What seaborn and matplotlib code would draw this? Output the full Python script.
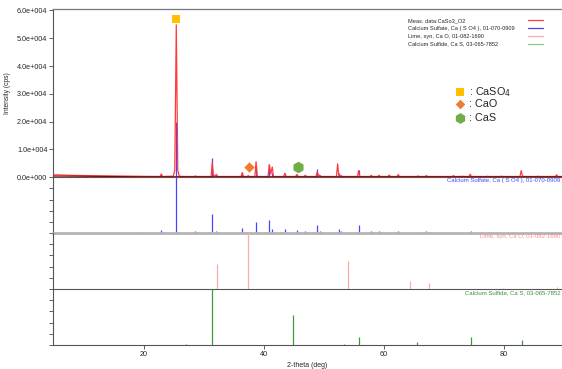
import matplotlib
matplotlib.use("Agg")
import matplotlib.pyplot as plt
import seaborn as sns
import pandas as pd

# ---------------- data ----------------
meas_2theta = [4.9, 8, 12, 16, 20, 22.7, 22.9, 23.1, 24.9, 25.15, 25.4, 25.65, 25.9, 26.5,
               28.4, 28.6, 28.8, 31.2, 31.4, 31.6, 32.1, 32.3, 36.2, 36.4, 36.6, 37.2, 37.4, 37.6,
               38.5, 38.7, 38.9, 40.7, 40.9, 41.15, 41.4, 41.6, 43.3, 43.5, 43.7, 45.3, 45.5, 45.7,
               46.7, 46.9, 47.1, 48.7, 48.9, 49.1, 49.3, 49.5, 52.1, 52.3, 52.5, 52.9, 53.1,
               55.6, 55.8, 56.0, 57.7, 57.9, 58.1, 59.0, 59.2, 59.4, 60.7, 60.9, 61.1, 62.2, 62.4, 62.6,
               65.5, 65.7, 65.9, 66.9, 67.1, 67.3, 71.4, 71.6, 71.8, 72.9, 73.1, 73.3, 74.2, 74.4, 74.6,
               77.1, 77.3, 77.5, 79.4, 79.6, 79.8, 82.7, 82.9, 83.1, 83.4, 85.5, 85.7, 85.9,
               88.6, 88.8, 89.0, 89.8]
meas_counts = [900, 700, 550, 450, 350, 300, 1200, 300, 400, 2500, 54800, 2500, 400, 300,
               300, 500, 300, 300, 5400, 400, 1000, 300, 300, 1650, 300, 300, 600, 300,
               300, 5600, 300, 300, 4600, 1200, 3700, 300, 300, 1400, 300, 300, 1000, 300,
               300, 700, 300, 300, 2000, 700, 800, 300, 300, 4800, 400, 600, 300,
               300, 2400, 300, 300, 700, 300, 300, 700, 300, 300, 800, 300, 300, 1000, 300,
               300, 500, 300, 300, 600, 300, 300, 600, 300, 300, 400, 300, 300, 1100, 300,
               300, 400, 300, 300, 400, 300, 300, 2400, 500, 300, 300, 400, 300,
               300, 900, 300, 300]
bg_2theta = [4.9, 20, 89.8]
bg_counts = [450, 200, 200]

caso4_pos = [19.0, 22.9, 25.4, 28.6, 31.4, 32.1, 36.4, 38.7, 40.9, 41.4, 43.5, 45.5, 46.9,
             48.9, 49.3, 52.5, 52.9, 55.9, 57.9, 59.2, 60.7, 62.4, 65.7, 67.1, 70.4, 71.9,
             72.9, 74.6, 77.6, 78.9, 81.6, 83.2, 84.7, 88.6]
caso4_rel = [1, 6, 100, 3, 35, 4, 9, 20, 23, 8, 8, 6, 3,
             15, 4, 8, 3, 14, 3, 3, 2, 3, 2, 3, 2, 2,
             2, 3, 2, 2, 2, 2, 2, 2]
cao_pos = [32.2, 37.4, 54.0, 64.4, 67.6, 79.8, 88.9]
cao_rel = [45, 100, 50, 15, 11, 2, 3]
cas_pos = [27.1, 31.4, 44.9, 53.3, 55.9, 65.6, 74.5, 83.0]
cas_rel = [2, 100, 54, 1, 15, 6, 14, 9]

ytick_vals = [0, 10000, 20000, 30000, 40000, 50000, 60000]
ytick_labels = ["0.0e+000", "1.0e+004", "2.0e+004", "3.0e+004", "4.0e+004", "5.0e+004", "6.0e+004"]
xtick_vals = [20, 40, 60, 80]

legend_labels = ["Meas. data:CaSo3_O2", "Calcium Sulfate, Ca ( S O4 ), 01-070-0909",
                 "Lime, syn, Ca O, 01-082-1690", "Calcium Sulfide, Ca S, 03-065-7852"]
phase_labels = [": CaSO$_4$", ": CaO", ": CaS"]
peak_marks_x = [25.4, 37.5, 45.7]
peak_marks_y = [56900, 3700, 3700]

# ---------------- style ----------------
sns.set_style("ticks")
plt.rcParams['font.family'] = ['Liberation Sans', 'DejaVu Sans']

RED = "#ff3a3a"
BLUE = "#4646ff"
PINK = "#ffaaaa"
GREEN = "#3c9a3c"
LGREEN = "#8cc88c"
C_SQ = "#ffc000"
C_DI = "#ed7d31"
C_HX = "#70ad47"

fig = plt.figure(figsize=(5.62, 3.69), dpi=100)
L = 53 / 562
W = 509 / 562


def rect(top, bot):
    return [L, (369 - bot) / 369, W, (bot - top) / 369]


ax0 = fig.add_axes(rect(9, 177.3))
ax1 = fig.add_axes(rect(177.3, 233), sharex=ax0)
ax2 = fig.add_axes(rect(233, 289), sharex=ax0)
ax3 = fig.add_axes(rect(289, 345), sharex=ax0)

# main panel
meas = pd.DataFrame({"2theta": meas_2theta, "counts": meas_counts})
bg = pd.DataFrame({"2theta": bg_2theta, "counts": bg_counts})
sns.lineplot(data=meas, x="2theta", y="counts", ax=ax0, color=RED, lw=0.9,
             estimator=None, sort=False, zorder=3)
sns.lineplot(data=bg, x="2theta", y="counts", ax=ax0, color="#8b0000", lw=0.8,
             estimator=None, sort=False, zorder=4)
ax0.vlines(caso4_pos, 0, [r * 200 for r in caso4_rel], color=BLUE, lw=0.9, zorder=2)
ax0.set_ylim(0, 60500)
ax0.set_yticks(ytick_vals)
ax0.set_yticklabels(ytick_labels)
ax0.set_ylabel("Intensity (cps)", fontsize=4.8, labelpad=4)
ax0.set_xlabel("")

# markers on peaks
ax0.scatter([peak_marks_x[0]], [peak_marks_y[0]], marker="s", s=40, color=C_SQ, zorder=6, linewidths=0)
ax0.scatter([peak_marks_x[1]], [peak_marks_y[1]], marker="D", s=28, color=C_DI, zorder=6, linewidths=0)
ax0.scatter([peak_marks_x[2]], [peak_marks_y[2]], marker="h", s=70, color=C_HX, zorder=6, linewidths=0)

# phase legend
tr = ax0.transAxes
mk = [("s", C_SQ, 36), ("D", C_DI, 24), ("h", C_HX, 60)]
ys = [0.506, 0.435, 0.351]
for (m, c, s), yy, lab in zip(mk, ys, phase_labels):
    ax0.scatter([0.80], [yy], marker=m, s=s, color=c, transform=tr, zorder=6,
                linewidths=0, clip_on=False)
    ax0.text(0.818, yy, lab, transform=tr, fontsize=7.8, va="center", ha="left")

# line legend
leg_cols = [RED, BLUE, PINK, LGREEN]
leg_y = [0.932, 0.885, 0.839, 0.791]
for lab, c, yy in zip(legend_labels, leg_cols, leg_y):
    ax0.text(0.697, yy, lab, transform=tr, fontsize=4.1, va="center", ha="left")
    ax0.plot([0.933, 0.963], [yy, yy], transform=tr, color=c, lw=0.9)

# reference panels
ax1.vlines(caso4_pos, 0, caso4_rel, color=BLUE, lw=0.9)
ax2.vlines(cao_pos, 0, cao_rel, color=PINK, lw=0.9)
ax3.vlines(cas_pos, 0, cas_rel, color=GREEN, lw=0.9)

labels_sub = [(ax1, legend_labels[1], BLUE), (ax2, legend_labels[2], "#ff8c8c"),
              (ax3, legend_labels[3], "#3c8c3c")]
for a, lab, c in labels_sub:
    a.set_ylim(0, 100)
    a.set_yticks([0, 20, 40, 60, 80])
    a.set_yticklabels([])
    a.text(0.997, 0.985, lab, transform=a.transAxes, fontsize=4.3, color=c,
           ha="right", va="top")
    a.set_ylabel("")

ax0.set_xlim(4.85, 89.7)
ax3.set_xticks(xtick_vals)
ax3.set_xlabel("2-theta (deg)", fontsize=5, labelpad=3)

for a in (ax0, ax1, ax2):
    a.tick_params(axis="x", bottom=False, labelbottom=False)
for a in (ax0, ax1, ax2, ax3):
    a.tick_params(axis="y", length=3, width=0.6, labelsize=5.2, color="#444", pad=1)
    a.spines["right"].set_visible(False)
    a.spines["left"].set_color("#555")
    a.spines["left"].set_linewidth(0.8)
    a.set_facecolor("none")
ax3.tick_params(axis="x", length=3, width=0.6, labelsize=5.2, color="#444", pad=1)

ax0.spines["top"].set_color("#777")
ax0.spines["top"].set_linewidth(0.9)
ax0.spines["bottom"].set_color("#555")
ax0.spines["bottom"].set_linewidth(0.8)
for a in (ax1, ax2, ax3):
    a.spines["top"].set_visible(False)
ax1.spines["bottom"].set_color("#b4b4b4")
ax1.spines["bottom"].set_linewidth(2.0)
ax2.spines["bottom"].set_color("#555")
ax2.spines["bottom"].set_linewidth(0.8)
ax3.spines["bottom"].set_color("#555")
ax3.spines["bottom"].set_linewidth(0.8)

fig.savefig("out.png", dpi=100)
